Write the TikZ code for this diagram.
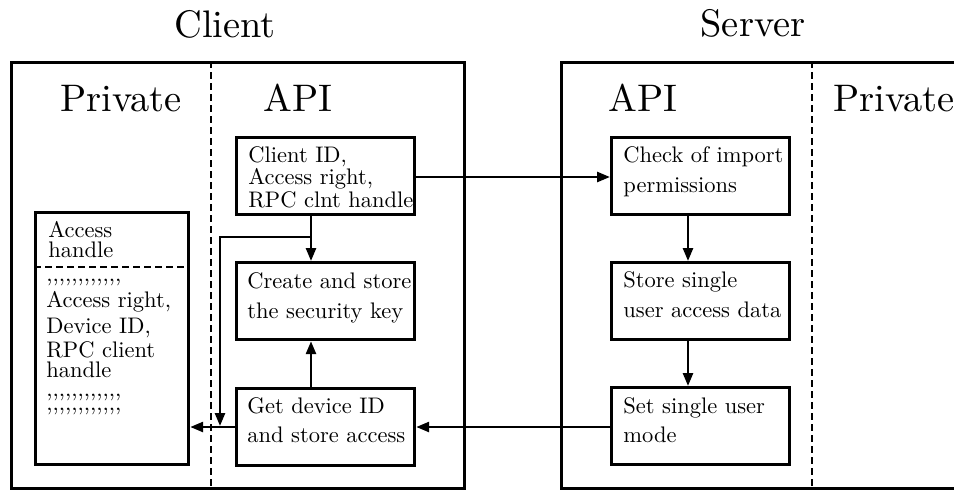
\documentclass[tikz,border=0pt]{standalone}
\usepackage{fontspec}
\setmainfont{lmroman10-regular.otf}
\usetikzlibrary{arrows.meta}
\begin{document}
\begin{tikzpicture}[x=0.5pt,y=-0.5pt,
  frame/.style={draw,line width=1.6pt,inner sep=0pt,anchor=north west},
  sep/.style={line width=1.4pt,dash pattern=on 3.5pt off 2pt},
  stepbox/.style={draw,line width=1.6pt,inner sep=0pt,anchor=north west,
    minimum width=89pt,minimum height=38.5pt},
  arr/.style={line width=1.3pt,-{Triangle[length=6.5pt,width=5pt]}},
  txt/.style={anchor=base west,inner sep=0pt,font=\fontsize{11.25}{13}\selectfont},
  head/.style={anchor=base,inner sep=0pt,font=\fontsize{19.2}{23}\selectfont},
  area/.style={anchor=base west,inner sep=0pt,font=\fontsize{19.2}{23}\selectfont}]
\useasboundingbox (0,0) rectangle (954,489);

% titles
\node[head] (tclient) at (225,37) {Client};
\node[head] (tserver) at (753,36) {Server};

% client and server frames
\node[frame,minimum width=226.5pt,minimum height=213pt] (client) at (10,61) {};
\node[frame,minimum width=210pt,minimum height=213pt] (server) at (560,61) {};
\draw[sep] (211,61) -- (211,487);
\draw[sep] (812,61) -- (812,487);

% area labels
\node[area] (cpriv) at (60,111) {Private};
\node[area] (capi) at (263,111) {API};
\node[area] (sapi) at (608,111) {API};
\node[area] (spriv) at (833,111) {Private};

% client API steps
\node[stepbox] (A) at (235,136) {};
\node[txt] (a1) at (248,162) {Client ID,};
\node[txt] (a2) at (248,184) {Access right,};
\node[txt] (a3) at (248,207) {RPC clnt handle};

\node[stepbox] (B) at (235,261) {};
\node[txt] (b1) at (247,288) {Create and store};
\node[txt] (b2) at (247,318) {the security key};

\node[stepbox] (C) at (235,387) {};
\node[txt] (c1) at (247,413) {Get device ID};
\node[txt] (c2) at (247,442) {and store access};

% private data record
\node[frame,minimum width=76.5pt,minimum height=126pt] (acc) at (34,211) {};
\coordinate (dl) at (34,267);
\coordinate (dr) at (187,267);
\draw[sep] (dl) -- (dr);
\node[txt] (h1) at (48,237) {Access};
\node[txt] (h2) at (48,257) {handle};
\node[txt] (r0) at (46,281) {,{},{},{},{},{},{},{},{},{},{},{},};
\node[txt] (r1) at (46,307) {Access right,};
\node[txt] (r2) at (46,333) {Device ID,};
\node[txt] (r3) at (46,357) {RPC client};
\node[txt] (r4) at (46,377) {handle};
\node[txt,anchor=north west,align=left,font=\fontsize{11.25}{7}\selectfont] (r5) at (46,394)
  {,{},{},{},{},{},{},{},{},{},{},{},\\,{},{},{},{},{},{},{},{},{},{},{},};

% server API steps
\node[stepbox] (S1) at (610,136) {};
\node[txt] (s11) at (623,162) {Check of import};
\node[txt] (s12) at (623,192) {permissions};

\node[stepbox] (S2) at (610,261) {};
\node[txt] (s21) at (623,287) {Store single};
\node[txt] (s22) at (623,317) {user access data};

\node[stepbox] (S3) at (610,386) {};
\node[txt] (s31) at (623,413) {Set single user};
\node[txt] (s32) at (623,442) {mode};

% helper coordinates for the connectors
\coordinate (xa) at (311,0);
\coordinate (xs) at (688,0);
\coordinate (yA) at (0,177);
\coordinate (yC) at (0,427);
\coordinate (j) at (311,237);
\coordinate (k) at (220,237);

% connectors
\draw[arr] (A.east |- yA) -- (S1.west |- yA);
\draw[arr] (A.south -| xa) -- (B.north -| xa);
\draw[arr] (j) -- (k) -- ([yshift=0.5pt]k |- yC);
\draw[arr] (C.north -| xa) -- (B.south -| xa);
\draw[arr] (C.west |- yC) -- (acc.east |- yC);
\draw[arr] (S1.south -| xs) -- (S2.north -| xs);
\draw[arr] (S2.south -| xs) -- (S3.north -| xs);
\draw[arr] (S3.west |- yC) -- (C.east |- yC);
\end{tikzpicture}
\end{document}
